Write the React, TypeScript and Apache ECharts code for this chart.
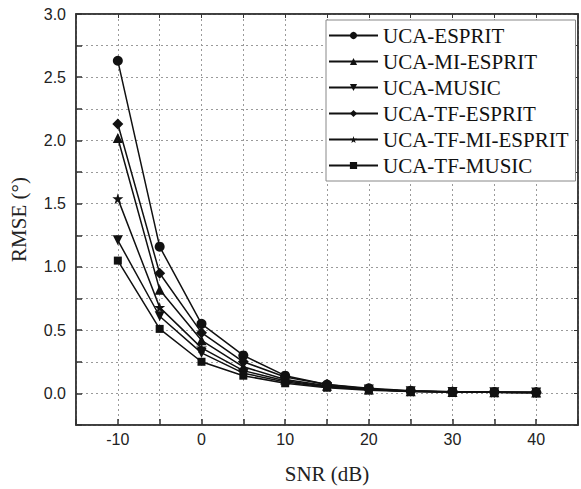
import React, { useEffect, useRef } from "react";
import * as echarts from "echarts";

const snr = [-10, -5, 0, 5, 10, 15, 20, 25, 30, 35, 40];
const seriesNames = [
  "UCA-ESPRIT",
  "UCA-MI-ESPRIT",
  "UCA-MUSIC",
  "UCA-TF-ESPRIT",
  "UCA-TF-MI-ESPRIT",
  "UCA-TF-MUSIC",
];
const ucaEsprit = [2.63, 1.16, 0.55, 0.30, 0.14, 0.07, 0.04, 0.02, 0.012, 0.01, 0.008];
const ucaMiEsprit = [2.02, 0.82, 0.42, 0.21, 0.11, 0.06, 0.03, 0.017, 0.011, 0.009, 0.007];
const ucaMusic = [1.21, 0.61, 0.32, 0.16, 0.09, 0.05, 0.03, 0.016, 0.01, 0.008, 0.007];
const ucaTfEsprit = [2.13, 0.95, 0.48, 0.25, 0.13, 0.07, 0.035, 0.018, 0.012, 0.009, 0.007];
const ucaTfMiEsprit = [1.54, 0.68, 0.36, 0.18, 0.10, 0.055, 0.03, 0.016, 0.01, 0.008, 0.007];
const ucaTfMusic = [1.05, 0.51, 0.25, 0.14, 0.08, 0.045, 0.025, 0.015, 0.01, 0.008, 0.006];
const allValues = [ucaEsprit, ucaMiEsprit, ucaMusic, ucaTfEsprit, ucaTfMiEsprit, ucaTfMusic];

const downTri = "path://M0,0 L10,0 L5,9 Z";
const star = "path://M50,0 L61,35 L98,35 L68,57 L79,91 L50,70 L21,91 L32,57 L2,35 L39,35 Z";
const symbols = ["circle", "triangle", downTri, "diamond", star, "rect"];
const symbolSizes = [10, 10, 10, 11, 11, 8];

export default function App() {
  const ref = useRef<HTMLDivElement>(null);
  useEffect(() => {
    if (!ref.current) return;
    const chart = echarts.init(ref.current, null, { renderer: "svg" });
    const gridLine = { show: true, lineStyle: { color: "#9a9a9a", type: [2, 3], width: 1 } };
    const tickFont = { fontFamily: "'Liberation Sans', Arial, sans-serif", fontSize: 16, color: "#222" };
    const nameFont = { fontFamily: "'Liberation Serif', 'Times New Roman', serif", fontSize: 21, color: "#222" };
    const axisLine = { show: true, onZero: false, lineStyle: { color: "#333", width: 1.5 } };
    chart.setOption({
      animation: false,
      backgroundColor: "#fff",
      grid: {
        left: 72,
        right: 2,
        top: 14,
        bottom: 62,
        show: true,
        borderColor: "#333",
        borderWidth: 1.5,
      },
      legend: {
        orient: "vertical",
        left: 326,
        top: 20,
        padding: [5, 7, 5, 2],
        itemGap: 5,
        itemWidth: 49,
        itemHeight: 9,
        borderColor: "#888",
        borderWidth: 1,
        backgroundColor: "#fff",
        data: seriesNames,
        textStyle: { fontFamily: "'Liberation Serif', 'Times New Roman', serif", fontSize: 21, color: "#111", lineHeight: 21 },
      },
      xAxis: [
        {
          type: "value",
          min: -15,
          max: 45,
          interval: 5,
          name: "SNR (dB)",
          nameLocation: "middle",
          nameGap: 38,
          nameTextStyle: nameFont,
          axisLine,
          axisTick: { inside: true, length: 6, lineStyle: { color: "#333", width: 1.5 } },
          axisLabel: {
            ...tickFont,
            margin: 6,
            formatter: (v: number) => (v % 10 === 0 ? String(v) : ""),
          },
          splitLine: gridLine,
        },
        {
          type: "value",
          position: "top",
          min: -15,
          max: 45,
          interval: 5,
          axisLine,
          axisTick: { inside: true, length: 4, lineStyle: { color: "#333" } },
          axisLabel: { show: false },
          splitLine: { show: false },
        },
      ],
      yAxis: [
        {
          type: "value",
          min: -0.25,
          max: 3,
          interval: 0.25,
          name: "RMSE (°)",
          nameLocation: "middle",
          nameGap: 47,
          nameTextStyle: nameFont,
          axisLine,
          axisTick: { inside: true, length: 6, lineStyle: { color: "#333", width: 1.5 } },
          axisLabel: {
            ...tickFont,
            margin: 10,
            formatter: (v: number) =>
              Math.abs(Math.round(v * 2) - v * 2) < 1e-6 ? v.toFixed(1) : "",
          },
          splitLine: gridLine,
        },
        {
          type: "value",
          position: "right",
          min: -0.25,
          max: 3,
          interval: 0.25,
          axisLine,
          axisTick: { inside: true, length: 4, lineStyle: { color: "#333" } },
          axisLabel: { show: false },
          splitLine: { show: false },
        },
      ],
      series: seriesNames.map((name, i) => ({
        name,
        type: "line",
        xAxisIndex: 0,
        yAxisIndex: 0,
        data: snr.map((x, j) => [x, allValues[i][j]]),
        symbol: symbols[i],
        symbolSize: symbolSizes[i],
        showAllSymbol: true,
        lineStyle: { color: "#111", width: 1.5 },
        itemStyle: { color: "#111" },
        z: 3,
      })),
    });
    return () => chart.dispose();
  }, []);
  return <div ref={ref} style={{ width: 581, height: 489, position: "absolute", left: 0, top: 0 }} />;
}
